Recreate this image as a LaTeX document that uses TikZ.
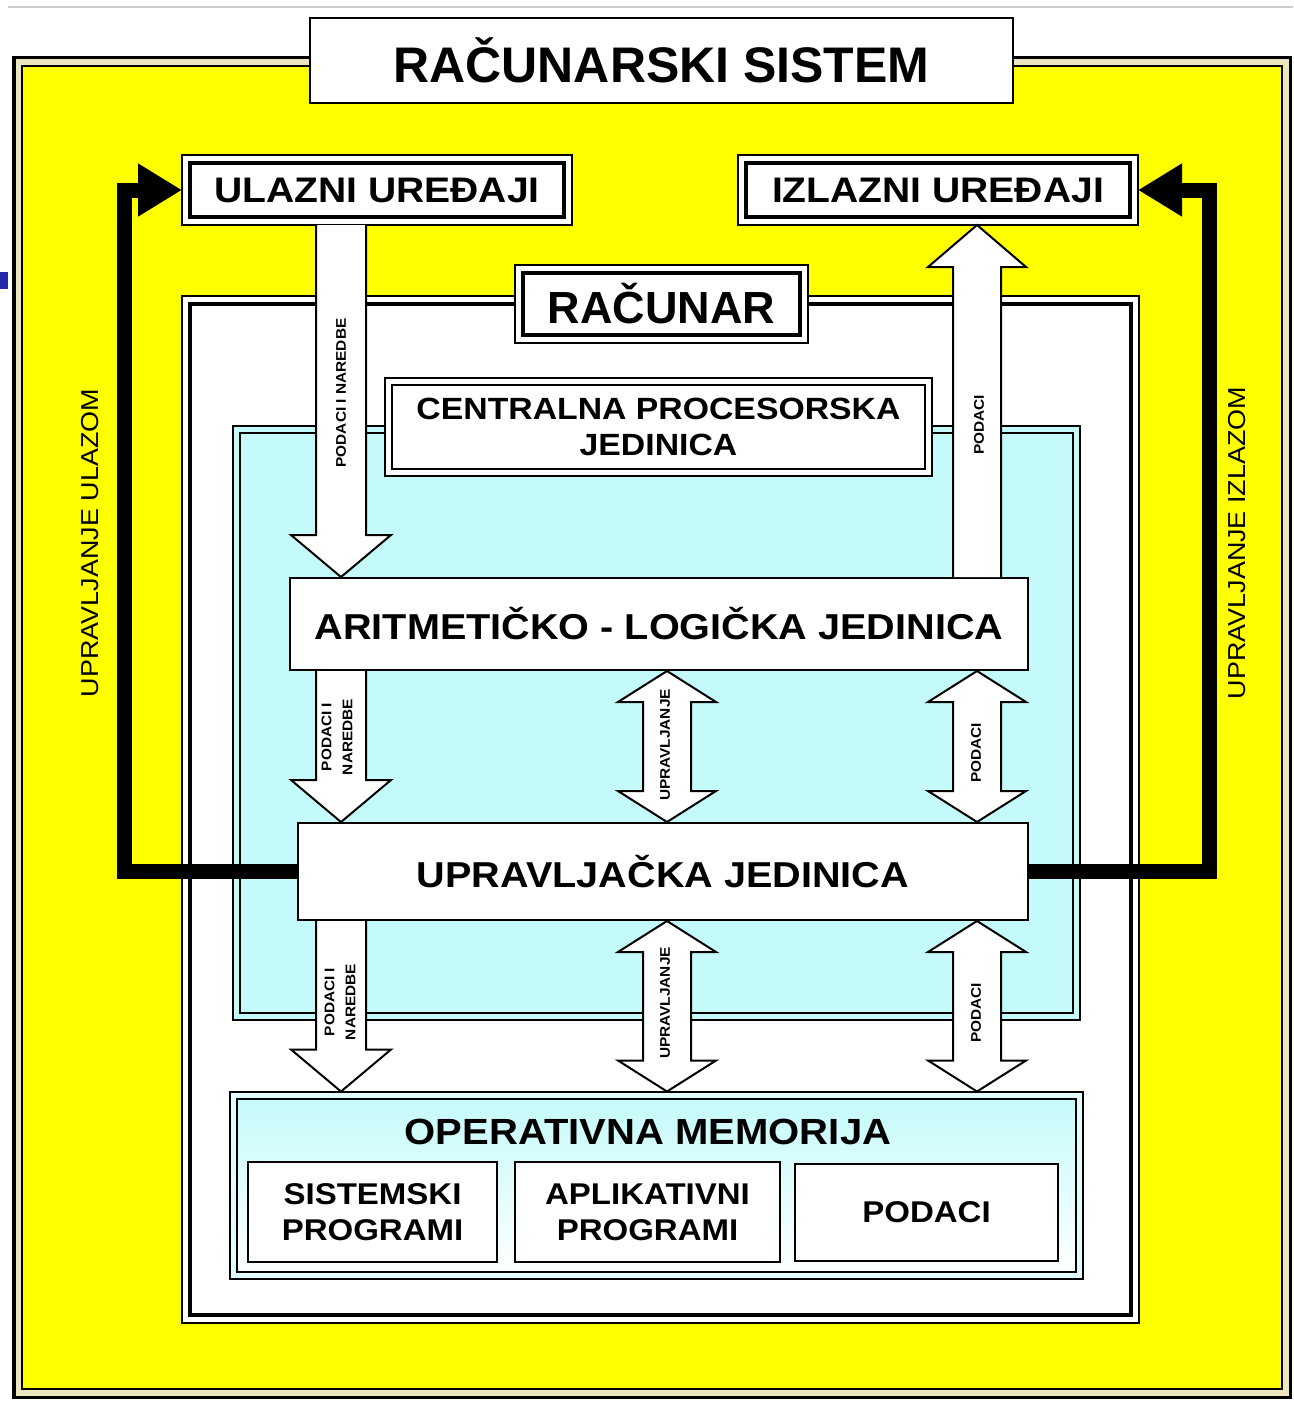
\documentclass[tikz,border=0pt]{standalone}
\usepackage{fontspec}
\setmainfont{Liberation Sans}
\newfontfamily\sirok[FakeStretch=1.1]{Liberation Sans}
\usetikzlibrary{positioning, calc, arrows.meta}
\definecolor{zuta}{RGB}{255,255,0}
\definecolor{cijan}{RGB}{196,250,250}
\definecolor{krem}{RGB}{236,230,190}
\definecolor{plava}{RGB}{40,40,170}
\newcommand{\strdole}[2]{\draw[blok] ($(#1)+(-25,0)$) -- ($(#2)+(-25,-42)$) -- ($(#2)+(-50,-42)$) -- (#2) -- ($(#2)+(50,-42)$) -- ($(#2)+(25,-42)$) -- ($(#1)+(25,0)$);}
\newcommand{\strgore}[2]{\draw[blok] ($(#1)+(-24,0)$) -- ($(#2)+(-24,42)$) -- ($(#2)+(-49,42)$) -- (#2) -- ($(#2)+(49,42)$) -- ($(#2)+(24,42)$) -- ($(#1)+(24,0)$);}
\newcommand{\dvostr}[2]{\draw[blok] (#1) -- ($(#1)+(49,31)$) -- ($(#1)+(24,31)$) -- ($(#2)+(24,-31)$) -- ($(#2)+(49,-31)$) -- (#2) -- ($(#2)+(-49,-31)$) -- ($(#2)+(-24,-31)$) -- ($(#1)+(-24,31)$) -- ($(#1)+(-49,31)$) -- cycle;}

\begin{document}
\begin{tikzpicture}[x=1pt, y=-1pt,
	kutija/.style={draw, fill=white, line width=2pt, inner sep=0pt, align=center, font=\sirok\bfseries\fontsize{36}{40}\selectfont},
	dupla/.style={kutija, line width=4.5pt, outer sep=#1, preaction={draw, line width=2*#1+1.5pt}, preaction={draw=white, line width=2*#1-1.5pt}},
	dupla/.default=8pt,
	dvolin/.style={draw, line width=1.5pt, double=#1, double distance=5.5pt, outer sep=4pt, inner sep=0pt},
	blok/.style={draw, fill=white, line width=2pt, line join=miter},
	upr/.style={line width=15pt, line join=miter, -{Triangle[length=44pt,width=50pt]}},
	oznaka/.style={rotate=90, inner sep=0pt, align=center, font=\sirok\bfseries\fontsize{14}{21}\selectfont},
	bocna/.style={rotate=90, inner sep=0pt, font=\sirok\fontsize{24.5}{27}\selectfont}]
	\useasboundingbox (0,0) rectangle (1293,1402);
	\fill[white] (0,0) rectangle (1293,1402);
	\draw[black!20, line width=2pt] (8,7) -- (1293,7);
	\fill[plava] (0,272) rectangle (8,289);

	\node[draw, line width=1.5pt, fill=zuta, minimum width=1260pt, minimum height=1323pt,
		preaction={draw, line width=20pt}, preaction={draw=krem, line width=13pt}] (sis) at (652,727.5) {};
	\node[dupla, minimum width=941pt, minimum height=1011pt] (rac) at (660.5,809.5) {};
	\node[dvolin=cijan, fill=cijan, minimum width=840pt, minimum height=587pt] (cpu) at (656.5,723) {};
	\node[dvolin=cijan!50!white, top color=cijan, bottom color=white, minimum width=846pt, minimum height=180pt] (mem) at (656.5,1185.5) {};

	\node[kutija, minimum width=703pt, minimum height=85pt, font=\bfseries\fontsize{50}{54}\selectfont] (sistem) at (661.5,60.5) {RAČUNARSKI SISTEM};
	\node[dupla, minimum width=374pt, minimum height=54pt, font=\sirok\bfseries\fontsize{35.5}{40}\selectfont] (ulaz) at (377,190) {ULAZNI UREĐAJI};
	\node[dupla, minimum width=384pt, minimum height=54pt, font=\sirok\bfseries\fontsize{35.5}{40}\selectfont] (izlaz) at (938,190) {IZLAZNI UREĐAJI};
	\node[dupla, minimum width=277pt, minimum height=62pt, font=\bfseries\fontsize{45}{48}\selectfont] (racunar) at (661.5,304) {RAČUNAR};
	\node[dupla=7pt, line width=2.5pt, minimum width=533pt, minimum height=84pt, font=\sirok\bfseries\fontsize{30.7}{36}\selectfont] (cpj) at (658.5,427) {CENTRALNA PROCESORSKA\\JEDINICA};
	\node[kutija, minimum width=738pt, minimum height=92pt] (alj) at (659,624) {ARITMETIČKO - LOGIČKA JEDINICA};
	\node[kutija, minimum width=730pt, minimum height=97pt] (uj) at (663,871.5) {UPRAVLJAČKA JEDINICA};
	\node[font=\sirok\bfseries\fontsize{36.4}{40}\selectfont] (om) at (648,1132) {OPERATIVNA MEMORIJA};
	\node[kutija, minimum width=249pt, minimum height=100pt, font=\sirok\bfseries\fontsize{30}{36}\selectfont] (sp) at (372.5,1212) {SISTEMSKI\\PROGRAMI};
	\node[kutija, minimum width=265pt, minimum height=100pt, font=\sirok\bfseries\fontsize{30}{36}\selectfont, right=16pt of sp] (ap) {APLIKATIVNI\\PROGRAMI};
	\node[kutija, minimum width=263pt, minimum height=97pt, font=\sirok\bfseries\fontsize{30}{36}\selectfont, right=13pt of ap] (pd) {PODACI};

	\coordinate (lk) at (124,500);
	\coordinate (dk) at (1209,500);
	\draw[upr] (uj.west) -| (lk) |- (ulaz.west);
	\draw[upr] (uj.east) -| (dk) |- (izlaz.east);
	\node[bocna] (lupr) at (90,543) {UPRAVLJANJE ULAZOM};
	\node[bocna] (dupr) at (1237,543) {UPRAVLJANJE IZLAZOM};

	\coordinate (k1) at (341,0);
	\coordinate (k2) at (667,0);
	\coordinate (k3) at (977,0);
	\coordinate (s1a) at (ulaz.south -| k1);
	\coordinate (s1b) at (alj.north -| k1);
	\coordinate (s2a) at (alj.north -| k3);
	\coordinate (s2b) at (izlaz.south -| k3);
	\coordinate (s3a) at (alj.south -| k1);
	\coordinate (s3b) at (uj.north -| k1);
	\coordinate (s4a) at (alj.south -| k2);
	\coordinate (s4b) at (uj.north -| k2);
	\coordinate (s5a) at (alj.south -| k3);
	\coordinate (s5b) at (uj.north -| k3);
	\coordinate (s6a) at (uj.south -| k1);
	\coordinate (s6b) at (mem.north -| k1);
	\coordinate (s7a) at (uj.south -| k2);
	\coordinate (s7b) at (mem.north -| k2);
	\coordinate (s8a) at (uj.south -| k3);
	\coordinate (s8b) at (mem.north -| k3);
	\strdole{s1a}{s1b}
	\strgore{s2a}{s2b}
	\strdole{s3a}{s3b}
	\dvostr{s4a}{s4b}
	\dvostr{s5a}{s5b}
	\strdole{s6a}{s6b}
	\dvostr{s7a}{s7b}
	\dvostr{s8a}{s8b}

	\node[oznaka] (t1) at (341,393) {PODACI I NAREDBE};
	\node[oznaka] (t2) at (979,425) {PODACI};
	\node[oznaka] (t3) at (337,737) {PODACI I\\NAREDBE};
	\node[oznaka] (t4) at (665,745) {UPRAVLJANJE};
	\node[oznaka] (t5) at (976,753) {PODACI};
	\node[oznaka] (t6) at (340,1002) {PODACI I\\NAREDBE};
	\node[oznaka] (t7) at (665,1003) {UPRAVLJANJE};
	\node[oznaka] (t8) at (976,1013) {PODACI};
\end{tikzpicture}
\end{document}
